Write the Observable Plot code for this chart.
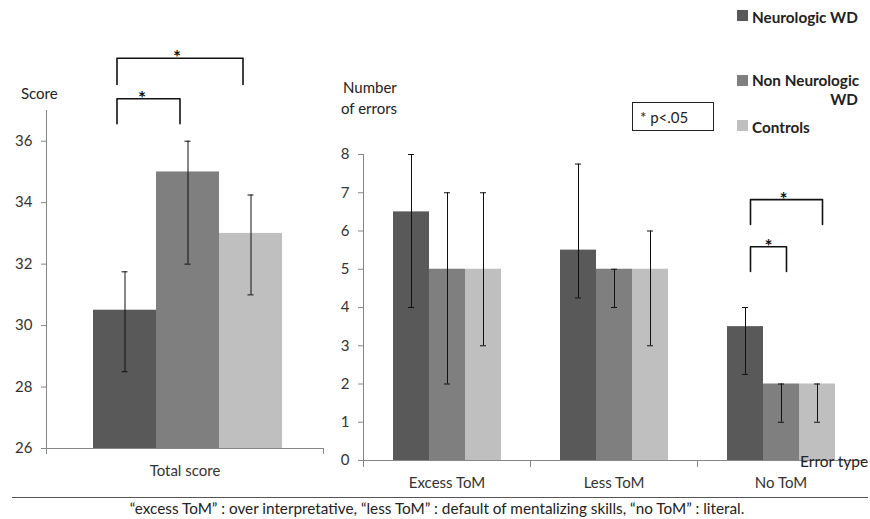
<!DOCTYPE html>
<html><head><meta charset="utf-8">
<script src="https://cdn.jsdelivr.net/npm/d3@7"></script>
<script src="https://cdn.jsdelivr.net/npm/@observablehq/plot@0.6"></script>
<style>
body{margin:0;background:#fff;}
#root{position:relative;width:870px;height:519px;overflow:hidden;font-family:Lato, sans-serif;color:#222;background:#fff;}
#root svg{position:absolute;top:0;}
.abs{position:absolute;white-space:nowrap;}
</style></head><body><div id="root"></div>
<script>
// ---- data ----
const groups = ["Neurologic WD", "Non Neurologic WD", "Controls"];
const groupColors = ["#595959", "#7f7f7f", "#bfbfbf"];

const scoreCategory = ["Total score"];
const scoreMean = [30.5, 35, 33];
const scoreLow = [28.5, 32, 31];
const scoreHigh = [31.75, 36, 34.25];
const scoreTicks = [26, 28, 30, 32, 34, 36];
const scoreDomain = [26, 37];

const errorTypes = ["Excess ToM", "Less ToM", "No ToM"];
const neuroMean = [6.5, 5.5, 3.5];
const neuroLow = [4, 4.25, 2.25];
const neuroHigh = [8, 7.75, 4];
const nonNeuroMean = [5, 5, 2];
const nonNeuroLow = [2, 4, 1];
const nonNeuroHigh = [7, 5, 2];
const controlMean = [5, 5, 2];
const controlLow = [3, 3, 1];
const controlHigh = [7, 6, 2];
const errorTicks = [0, 1, 2, 3, 4, 5, 6, 7, 8];
const errorDomain = [0, 8];

// significance brackets (annotation positions in data units)
const scoreBrackets = [
  {id: "s1", cat: "Total score", from: groups[0], to: groups[2], top: 38.7, leg: 37.85},
  {id: "s2", cat: "Total score", from: groups[0], to: groups[1], top: 37.38, leg: 36.57}
];
const errorBrackets = [
  {id: "e1", cat: "No ToM", from: groups[0], to: groups[2], top: 6.82, leg: 6.17},
  {id: "e2", cat: "No ToM", from: groups[0], to: groups[1], top: 5.59, leg: 4.94}
];

const caption = "\u201cexcess ToM\u201d : over interpretative, \u201cless ToM\u201d : default of mentalizing skills, \u201cno ToM\u201d : literal.";

// ---- tables ----
const scoreRows = groups.map((g, i) => ({cat: scoreCategory[0], group: g, mean: scoreMean[i], lo: scoreLow[i], hi: scoreHigh[i]}));
const errSeries = [[neuroMean, neuroLow, neuroHigh], [nonNeuroMean, nonNeuroLow, nonNeuroHigh], [controlMean, controlLow, controlHigh]];
const errorRows = errorTypes.flatMap((c, j) => groups.map((g, i) => ({cat: c, group: g, mean: errSeries[i][0][j], lo: errSeries[i][1][j], hi: errSeries[i][2][j]})));
const bracketPts = (bs) => bs.flatMap(b => [
  {id: b.id, cat: b.cat, g: b.from, y: b.leg},
  {id: b.id, cat: b.cat, g: b.from, y: b.top},
  {id: b.id, cat: b.cat, g: b.to, y: b.top},
  {id: b.id, cat: b.cat, g: b.to, y: b.leg}
]);

const axisGray = "#868686";
const textCol = "#333";
const font = "Lato, sans-serif";
const starStyle = {text: () => "*", lineAnchor: "bottom", dy: 6, fontSize: 19, fontWeight: "bold", fill: "#111"};

function panelMarks(rows, ticks, capInset) {
  return [
    Plot.barY(rows, {fx: "cat", x: "group", y: "mean", fill: "group", clip: true}),
    Plot.ruleX(rows, {fx: "cat", x: "group", y1: "lo", y2: "hi", stroke: "#111", strokeWidth: 1}),
    Plot.tickY(rows, {fx: "cat", x: "group", y: "lo", stroke: "#111", strokeWidth: 1, insetLeft: capInset, insetRight: capInset}),
    Plot.tickY(rows, {fx: "cat", x: "group", y: "hi", stroke: "#111", strokeWidth: 1, insetLeft: capInset, insetRight: capInset}),
    Plot.frame({anchor: "bottom", stroke: axisGray}),
    Plot.axisY({ticks, tickSize: 5, tickPadding: 9, label: null, stroke: axisGray, fill: textCol, fontSize: 15}),
    Plot.axisFx({anchor: "bottom", tickSize: 0, tickPadding: 17, label: null, fill: textCol, fontSize: 15})
  ];
}

const left = Plot.plot({
  width: 330, height: 519,
  marginLeft: 46, marginRight: 7, marginTop: 110, marginBottom: 71,
  style: {background: "transparent", fontFamily: font, fontSize: "15px", color: textCol, overflow: "visible"},
  fx: {domain: scoreCategory, padding: 0, label: null},
  x: {domain: groups, paddingInner: 0, paddingOuter: 0.698, align: 0.534, axis: null},
  y: {domain: scoreDomain, label: null},
  color: {domain: groups, range: groupColors},
  marks: [
    ...panelMarks(scoreRows, scoreTicks, 28.5),
    Plot.frame({anchor: "left", stroke: axisGray, insetBottom: -5}),
    Plot.frame({anchor: "right", stroke: axisGray, insetTop: 338, insetBottom: -5}),
    Plot.line(bracketPts(scoreBrackets), {fx: "cat", x: "g", y: "y", z: "id", stroke: "#111", strokeWidth: 1.6, dx: -8}),
    Plot.text([scoreBrackets[0]], {fx: "cat", x: () => groups[1], y: "top", dx: -11, ...starStyle}),
    Plot.text([scoreBrackets[1]], {fx: "cat", x: "from", y: "top", dx: 17, ...starStyle})
  ]
});
left.style.left = "0px";

const right = Plot.plot({
  width: 540, height: 519,
  marginLeft: 33, marginRight: 6, marginTop: 154, marginBottom: 59,
  style: {background: "transparent", fontFamily: font, fontSize: "15px", color: textCol, overflow: "visible"},
  fx: {domain: errorTypes, padding: 0, label: null},
  x: {domain: groups, paddingInner: 0, paddingOuter: 0.757, axis: null},
  y: {domain: errorDomain, label: null},
  color: {domain: groups, range: groupColors},
  marks: [
    ...panelMarks(errorRows, errorTicks, 15),
    Plot.frame({anchor: "left", stroke: axisGray, insetBottom: -6, facetAnchor: "left"}),
    Plot.frame({anchor: "left", stroke: axisGray, insetTop: 306, insetBottom: -6}),
    Plot.line(bracketPts(errorBrackets), {fx: "cat", x: "g", y: "y", z: "id", stroke: "#111", strokeWidth: 1.6, dx: 5}),
    Plot.text([errorBrackets[0]], {fx: "cat", x: () => groups[1], y: "top", dx: 2, ...starStyle}),
    Plot.text([errorBrackets[1]], {fx: "cat", x: "from", y: "top", dx: 23, ...starStyle})
  ]
});
right.style.left = "330px";

const root = document.getElementById("root");
root.appendChild(left);
root.appendChild(right);

function label(text, x, yc, opts = {}) {
  const size = opts.size || 15;
  const d = document.createElement("div");
  d.className = "abs";
  d.textContent = text;
  d.style.fontSize = size + "px";
  d.style.lineHeight = (size * 1.2) + "px";
  d.style.top = (yc - 0.62 * size) + "px";
  if (opts.right) { d.style.right = (870 - x) + "px"; } else if (opts.center) { d.style.left = (x - 400) + "px"; d.style.width = "800px"; d.style.textAlign = "center"; } else { d.style.left = x + "px"; }
  if (opts.weight) d.style.fontWeight = opts.weight;
  d.style.color = opts.color || "#222";
  root.appendChild(d);
  return d;
}

// axis titles
label("Score", 21, 93);
label("Number", 343, 87);
label("of errors", 341, 108);
label("Error type", 800, 462, {size: 15.5});

// legend
const legendY = [15.5, 80, 125.5];
groups.forEach((g, i) => {
  const sq = document.createElement("div");
  sq.className = "abs";
  Object.assign(sq.style, {left: "737px", top: (legendY[i] - 5.5) + "px", width: "11px", height: "11px", background: groupColors[i]});
  root.appendChild(sq);
});
label("Neurologic WD", 752, 17, {weight: "bold", size: 15.3});
label("Non Neurologic", 752, 80, {weight: "bold", size: 15.3});
label("WD", 858, 99, {weight: "bold", right: true, size: 15.3});
label("Controls", 752, 127, {weight: "bold", size: 15.3});

// p-value box
const box = document.createElement("div");
box.className = "abs";
Object.assign(box.style, {left: "632px", top: "102px", width: "80px", height: "27px", border: "1px solid #222", background: "#fff"});
root.appendChild(box);
label("* p<.05", 640, 117);

// caption rule and text
const hr = document.createElement("div");
hr.className = "abs";
Object.assign(hr.style, {left: "12px", top: "497px", width: "856px", height: "1px", background: "#555"});
root.appendChild(hr);
label(caption, 437, 508, {size: 15.3, center: true});
</script></body></html>
